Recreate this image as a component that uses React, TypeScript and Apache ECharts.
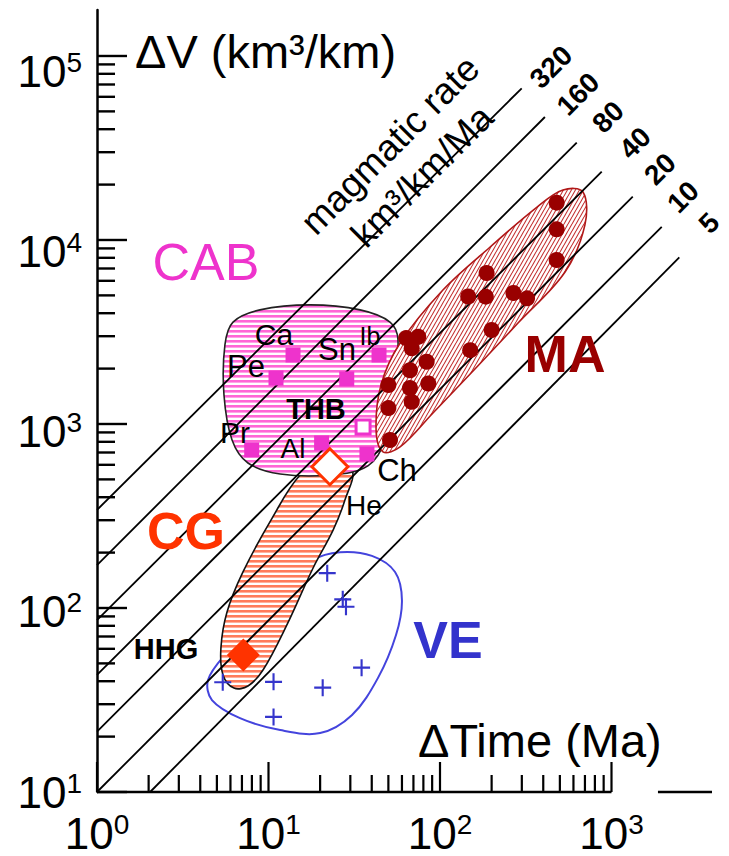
import React, { useEffect, useRef } from 'react';
import * as echarts from 'echarts';

const FONT = '"Liberation Sans", Arial, Helvetica, sans-serif';

// ---- axes ----
const xMin = 1;
const xMax = 3855;
const yMin = 10;
const yMax = 177800;
// the printed y labels are spaced slightly tighter than the ticks
const yLabelAxisMax = 220800;
const xDecades = [1, 10, 100];
const xMajor = [1, 10, 100, 1000];
const yDecades = [10, 100, 1000, 10000];
const yMajor = [10, 100, 1000, 10000, 100000];
const minorMultipliers = [2, 3, 4, 5, 6, 7, 8, 9];
const xAxisLineSegments = [[1, 1000], [1866, 3855]];

// ---- magmatic-rate lines (km3/km/Ma) ----
const rates = [320, 160, 80, 40, 20, 10, 5];
const rateStartT = [1, 1, 1, 1, 1, 1, 2.04];
const rateStartV = [341, 171, 86, 43.3, 21.3, 10, 10];
const rateEndT = [299.5, 409, 627, 877, 1330, 1963, 2485];
const rateEndV = [66750, 46600, 33800, 23500, 17200, 11800, 8050];

// ---- CAB (continental arc batholiths) ----
const cabSquareT = [13.9, 11.06, 28.6, 44.1, 7.98, 20.4, 37.5];
const cabSquareV = [2371, 1778, 1758, 2371, 723, 788, 687];
const thbT = [35.6];
const thbV = [963];
const cabOutline = [
  [6.21, 3580], [8.92, 4170], [17.5, 4440], [34.2, 4170], [51.1, 3580],
  [56.9, 2860], [53.2, 1530], [47.8, 818], [38.0, 592], [22.8, 528],
  [11.7, 535], [7.59, 614], [6.13, 818], [5.5, 1440], [5.57, 2690],
];

// ---- MA ----
const maDotT = [479, 479, 479, 187, 146, 185, 268, 322, 200, 150, 74.7, 63.4, 68.4, 83.6, 66.8, 85.5, 50.0, 66.8, 68.4, 50.0, 51.1];
const maDotV = [15960, 11430, 7780, 6620, 4930, 4920, 5150, 4820, 3240, 2520, 2980, 2930, 2580, 2180, 1960, 1660, 1630, 1570, 1320, 1220, 818];
const maOutline = [
  [682, 18240], [700, 12080], [536, 6700], [285, 3540], [164, 2042],
  [91, 1148], [58.5, 750], [46.5, 705], [42.4, 927], [45.3, 1629],
  [58.5, 2754], [104, 5346], [196, 9160], [368, 15100], [521, 18700],
];

// ---- CG ----
const hhgT = [7.13];
const hhgV = [55.6];
const heT = [22.8];
const heV = [586];
const cgOutline = [
  [30.7, 562], [27.9, 386], [23.8, 265], [18.2, 165], [12.8, 80.9],
  [9.29, 46.0], [7.59, 37.7], [6.29, 36.7], [5.43, 43.3], [5.28, 60.7],
  [5.73, 95.1], [7.10, 157], [10.5, 308], [15.3, 528], [21.4, 621],
];

// ---- VE ----
const veT = [22.0, 27.1, 28.3, 34.9, 20.7, 10.7, 5.41, 10.7];
const veV = [154.6, 111.4, 101.6, 47.4, 36.9, 39.7, 39.5, 25.6];
const veOutline = [
  [18.2, 182], [26.1, 201], [40.1, 192], [54.7, 157], [60.0, 110],
  [55.4, 71.3], [43.5, 41.7], [30.7, 26.2], [20.0, 20.9], [11.7, 21.7],
  [6.82, 25.2], [4.68, 31.6], [4.44, 40.6], [5.57, 55.6], [8.92, 86.1], [13.3, 133],
];

const svgUrl = (s: string) => 'data:image/svg+xml;base64,' + btoa(s);
const stripePattern = (bg: string, fg: string) => ({
  image: svgUrl(
    `<svg xmlns="http://www.w3.org/2000/svg" width="8" height="5"><rect width="8" height="5" fill="${bg}"/><rect width="8" height="2.6" fill="${fg}"/></svg>`
  ),
  repeat: 'repeat',
  imageWidth: 8,
  imageHeight: 5,
});
const diagPattern = {
  image: svgUrl(
    `<svg xmlns="http://www.w3.org/2000/svg" width="4" height="7"><rect width="4" height="7" fill="#ffffff"/><path d="M0 7L4 0M-4 7L0 0M4 7L8 0" stroke="#c43232" stroke-width="1.1"/></svg>`
  ),
  repeat: 'repeat',
  imageWidth: 4,
  imageHeight: 7,
};

const zip = (a: number[], b: number[]) => a.map((v, i) => [v, b[i]]);

function shapeSeries(name: string, outline: number[][], fill: any, stroke: string, lineWidth: number, z: number) {
  return {
    type: 'custom',
    name,
    z,
    silent: true,
    clip: false,
    data: outline,
    renderItem: (params: any, api: any) => {
      if (params.dataIndex !== 0) return null;
      const pts = outline.map((p) => api.coord(p));
      return {
        type: 'polygon',
        shape: { points: pts, smooth: 0.35 },
        style: { fill, stroke, lineWidth },
      };
    },
  };
}

const plusPath = 'path://M7,0H9V7H16V9H9V16H7V9H0V7H7Z';

type Lbl = { t: string; x: number; y: number; s: number; w?: string; c?: string; r?: number; a?: string };
const labels: Lbl[] = [
  { t: 'ΔV (km³/km)', x: 135, y: 51, s: 47, a: 'left' },
  { t: 'ΔTime (Ma)', x: 418, y: 740, s: 47, a: 'left' },
  { t: 'magmatic rate', x: 390, y: 145, s: 37, r: 45 },
  { t: 'km³/km/Ma', x: 422, y: 176, s: 37, r: 45 },
  { t: '320', x: 551, y: 67, s: 28, w: 'bold', r: 45 },
  { t: '160', x: 578, y: 94, s: 28, w: 'bold', r: 45 },
  { t: '80', x: 608, y: 117, s: 28, w: 'bold', r: 45 },
  { t: '40', x: 635, y: 143, s: 28, w: 'bold', r: 45 },
  { t: '20', x: 660, y: 169, s: 28, w: 'bold', r: 45 },
  { t: '10', x: 683, y: 197, s: 28, w: 'bold', r: 45 },
  { t: '5', x: 709, y: 223, s: 28, w: 'bold', r: 45 },
  { t: 'CAB', x: 206, y: 262, s: 52, c: '#ee33cc' },
  { t: 'MA', x: 565, y: 354, s: 52, w: 'bold', c: '#990000' },
  { t: 'CG', x: 186, y: 531, s: 52, w: 'bold', c: '#ff3300' },
  { t: 'VE', x: 448, y: 640, s: 52, w: 'bold', c: '#3333cc' },
  { t: 'Ca', x: 274, y: 334, s: 30 },
  { t: 'Sn', x: 337, y: 349, s: 31 },
  { t: 'Ib', x: 370, y: 336, s: 25 },
  { t: 'Pe', x: 246, y: 366, s: 31 },
  { t: 'Pr', x: 235, y: 432, s: 30 },
  { t: 'THB', x: 316, y: 409, s: 29, w: 'bold' },
  { t: 'Al', x: 293, y: 448, s: 28 },
  { t: 'Ch', x: 397, y: 470, s: 31 },
  { t: 'He', x: 364, y: 505, s: 28 },
  { t: 'HHG', x: 166, y: 649, s: 29, w: 'bold' },
];

const supFormatter = (v: number) => {
  const e = Math.log10(v);
  const r = Math.round(e);
  if (Math.abs(e - r) > 1e-6) return '';
  return `{b|10}{s|${r}}`;
};
const supRich = {
  b: { fontSize: 44, fontFamily: FONT, color: '#000', lineHeight: 46 },
  s: { fontSize: 28, fontFamily: FONT, color: '#000', verticalAlign: 'top', lineHeight: 30 },
};

export default function App() {
  const ref = useRef<HTMLDivElement>(null);
  useEffect(() => {
    if (!ref.current) return;
    const chart = echarts.init(ref.current, null, { renderer: 'svg' });

    const yTickVals: number[] = [...yMajor];
    yDecades.forEach((d) => minorMultipliers.forEach((m) => yTickVals.push(m * d)));
    const xTickVals: number[] = [...xMajor];
    xDecades.forEach((d) => minorMultipliers.forEach((m) => xTickVals.push(m * d)));
    const isMajor = (v: number) => Math.abs(Math.log10(v) - Math.round(Math.log10(v))) < 1e-9;

    const series: any[] = [
      shapeSeries('VE', veOutline, 'none', '#4444dd', 2, 1),
      shapeSeries('CG', cgOutline, stripePattern('#ffffff', '#ff7c5c'), '#111111', 1.6, 2),
      shapeSeries('CAB', cabOutline, stripePattern('#ffffff', '#ff66d6'), '#222222', 1.6, 3),
      shapeSeries('MA', maOutline, diagPattern, '#b01818', 1.6, 4),
      ...rates.map((r, i) => ({
        type: 'line',
        name: `rate ${r}`,
        z: 5,
        silent: true,
        symbol: 'none',
        clip: false,
        data: [[rateStartT[i], rateStartV[i]], [rateEndT[i], rateEndV[i]]],
        lineStyle: { color: '#000', width: 1.8 },
      })),
      {
        type: 'custom',
        name: 'yTicks',
        z: 6,
        silent: true,
        clip: false,
        data: yTickVals.map((v) => [xMin, v]),
        renderItem: (params: any, api: any) => {
          const p = api.coord([api.value(0), api.value(1)]);
          const len = isMajor(api.value(1)) ? 30 : 18;
          return { type: 'line', shape: { x1: p[0], y1: p[1], x2: p[0] + len, y2: p[1] }, style: { stroke: '#000', lineWidth: 2.4 } };
        },
      },
      {
        type: 'custom',
        name: 'xTicks',
        z: 6,
        silent: true,
        clip: false,
        data: xTickVals.map((v) => [v, yMin]),
        renderItem: (params: any, api: any) => {
          const p = api.coord([api.value(0), api.value(1)]);
          const len = isMajor(api.value(0)) ? 30 : 17;
          return { type: 'line', shape: { x1: p[0], y1: p[1], x2: p[0], y2: p[1] - len }, style: { stroke: '#000', lineWidth: 2.2 } };
        },
      },
      {
        type: 'custom',
        name: 'xAxisLine',
        z: 6,
        silent: true,
        clip: false,
        data: xAxisLineSegments,
        renderItem: (params: any, api: any) => {
          const a = api.coord([api.value(0), yMin]);
          const b = api.coord([api.value(1), yMin]);
          return { type: 'line', shape: { x1: a[0], y1: a[1], x2: b[0], y2: b[1] }, style: { stroke: '#000', lineWidth: 2.5 } };
        },
      },
      {
        type: 'scatter',
        name: 'CAB',
        z: 7,
        silent: true,
        symbol: 'rect',
        symbolSize: 15,
        data: zip(cabSquareT, cabSquareV),
        itemStyle: { color: '#ee33cc', opacity: 1 },
      },
      {
        type: 'scatter',
        name: 'THB',
        z: 7,
        silent: true,
        symbol: 'rect',
        symbolSize: 14,
        data: zip(thbT, thbV),
        itemStyle: { color: '#ffffff', borderColor: '#ee33cc', borderWidth: 3, opacity: 1 },
      },
      {
        type: 'scatter',
        name: 'MA',
        z: 7,
        silent: true,
        symbol: 'circle',
        symbolSize: 16,
        data: zip(maDotT, maDotV),
        itemStyle: { color: '#990000', opacity: 1 },
      },
      {
        type: 'scatter',
        name: 'VE',
        z: 7,
        silent: true,
        symbol: plusPath,
        symbolSize: 17,
        data: zip(veT, veV),
        itemStyle: { color: '#3535cc', opacity: 1 },
      },
      {
        type: 'scatter',
        name: 'HHG',
        z: 8,
        silent: true,
        symbol: 'diamond',
        symbolSize: 33,
        data: zip(hhgT, hhgV),
        itemStyle: { color: '#ff3300', opacity: 1 },
      },
      {
        type: 'scatter',
        name: 'He',
        z: 8,
        silent: true,
        symbol: 'diamond',
        symbolSize: 36,
        data: zip(heT, heV),
        itemStyle: { color: '#ffffff', borderColor: '#ff3300', borderWidth: 3, opacity: 1 },
      },
    ];

    chart.setOption({
      animation: false,
      backgroundColor: '#ffffff',
      grid: { left: 97, right: 17, top: 10, bottom: 64, containLabel: false },
      xAxis: {
        type: 'log',
        logBase: 10,
        min: xMin,
        max: xMax,
        interval: 1,
        axisLine: { show: false },
        axisTick: { show: false },
        splitLine: { show: false },
        minorTick: { show: false },
        axisLabel: { formatter: supFormatter, rich: supRich, margin: 18, showMaxLabel: false },
      },
      yAxis: [
        {
          type: 'log',
          logBase: 10,
          min: yMin,
          max: yMax,
          interval: 1,
          position: 'left',
          axisLine: { show: true, onZero: false, lineStyle: { color: '#000', width: 2.5 } },
          axisTick: { show: false },
          splitLine: { show: false },
          minorTick: { show: false },
          axisLabel: { show: false },
        },
        {
          type: 'log',
          logBase: 10,
          min: yMin,
          max: yLabelAxisMax,
          interval: 1,
          position: 'left',
          offset: 0,
          axisLine: { show: false, onZero: false },
          axisTick: { show: false },
          splitLine: { show: false },
          minorTick: { show: false },
          axisLabel: { formatter: supFormatter, rich: supRich, margin: 15, showMaxLabel: false },
        },
      ],
      series,
      graphic: labels.map((l) => ({
        type: 'text',
        x: l.x,
        y: l.y,
        rotation: ((l.r || 0) * Math.PI) / 180,
        z: 20,
        silent: true,
        style: {
          text: l.t,
          font: `${l.w || 'normal'} ${l.s}px ${FONT}`,
          fill: l.c || '#000',
          textAlign: l.a || 'center',
          textVerticalAlign: 'middle',
        },
      })),
    });
    return () => chart.dispose();
  }, []);
  return <div ref={ref} style={{ position: 'fixed', left: 0, top: 0, width: 729, height: 856, background: '#fff' }} />;
}
